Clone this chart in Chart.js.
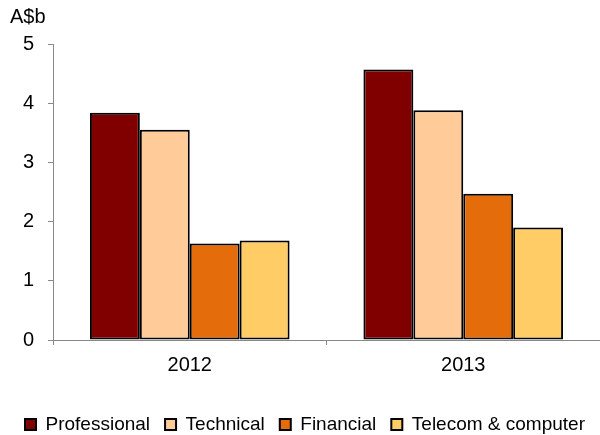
<!DOCTYPE html>
<html>
<head>
<meta charset="utf-8">
<script src="https://cdn.jsdelivr.net/npm/chart.js@4"></script>
<style>
  html, body { margin: 0; padding: 0; background: #fff; }
  #wrap { width: 600px; height: 435px; }
</style>
</head>
<body>
<div id="wrap"><canvas id="myChart"></canvas></div>
<script>
// Chart data
const years = ['2012', '2013'];
const professional = [3.84, 4.57];
const technical = [3.55, 3.88];
const financial = [1.63, 2.47];
const telecom = [1.68, 1.90];
const yTicks = [0, 1, 2, 3, 4, 5];

Chart.defaults.font.family = '"Liberation Sans", Arial, sans-serif';
Chart.defaults.color = '#000';

const canvas = document.getElementById('myChart');

const chart = new Chart(canvas, {
  type: 'bar',
  data: {
    labels: years,
    datasets: [
      { label: 'Professional', data: professional, backgroundColor: '#800000' },
      { label: 'Technical', data: technical, backgroundColor: '#FFCC99' },
      { label: 'Financial', data: financial, backgroundColor: '#E46C0A' },
      { label: 'Telecom & computer', data: telecom, backgroundColor: '#FFCC66' },
    ].map((d) => ({ ...d, borderColor: '#000', borderWidth: 2, borderSkipped: false })),
  },
  options: {
    responsive: true,
    maintainAspectRatio: false,
    animation: false,
    layout: {
      padding: { left: 10, right: 0, top: 3, bottom: -9 },
    },
    datasets: {
      bar: { categoryPercentage: 0.73, barPercentage: 1 },
    },
    plugins: {
      title: {
        display: true,
        text: 'A$b',
        align: 'start',
        font: { size: 20, weight: 'normal' },
        padding: { top: 2, bottom: 15 },
      },
      legend: {
        position: 'bottom',
        labels: {
          boxWidth: 11,
          boxHeight: 11,
          font: { size: 19 },
          padding: 15,
        },
      },
      tooltip: { enabled: false },
    },
    scales: {
      x: {
        offset: true,
        afterFit: (axis) => {
          axis.height = 60;
        },
        grid: {
          offset: true,
          drawOnChartArea: false,
          tickLength: 5,
          color: '#888',
        },
        border: { color: '#888', width: 1 },
        ticks: { font: { size: 20 }, padding: 8 },
      },
      y: {
        min: 0,
        max: 5,
        afterBuildTicks: (axis) => {
          axis.ticks = yTicks.map((v) => ({ value: v }));
        },
        afterFit: (axis) => {
          axis.width = 43;
        },
        grid: {
          drawOnChartArea: false,
          tickLength: 5,
          color: '#888',
        },
        border: { color: '#888', width: 1 },
        ticks: { font: { size: 20 }, padding: 14 },
      },
    },
  },
});
</script>
</body>
</html>
